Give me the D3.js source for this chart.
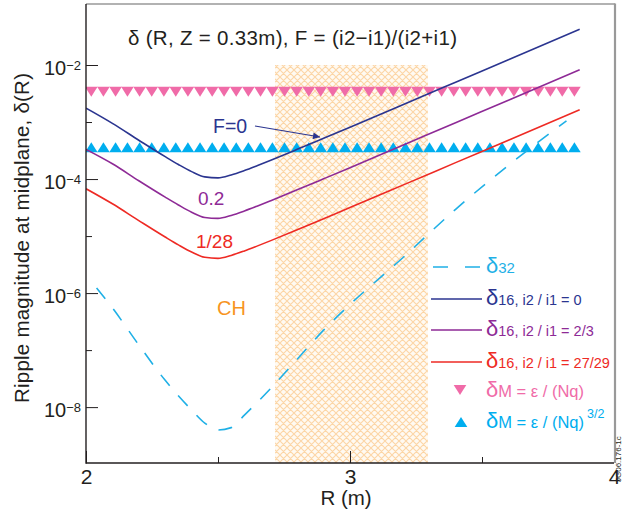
<!DOCTYPE html>
<html><head><meta charset="utf-8">
<script src="https://cdn.jsdelivr.net/npm/d3@7"></script>
<style>
html,body{margin:0;padding:0;background:#fff;}
svg{display:block;font-family:"Liberation Sans",Arial,Helvetica,sans-serif;}
</style></head>
<body><svg id="c" width="623" height="517"></svg>
<script>
// ---- data ----
const xTicks = [2, 3, 4];
const xMinorTicks = [2.5, 3.5];
const yTicks = [1e-2, 1e-4, 1e-6, 1e-8];
const yTickExp = ["\u22122", "\u22124", "\u22126", "\u22128"];
const yMinorTicks = [1e-3, 1e-5, 1e-7];

const R_curve = [2.00, 2.10, 2.20, 2.30, 2.35, 2.40, 2.45, 2.50, 2.55, 2.60, 2.65, 2.70, 2.80, 2.90, 3.00, 3.20, 3.40, 3.60, 3.87];
const delta16_F0 = [1.75e-3, 9.46e-4, 4.80e-4, 2.47e-4, 1.80e-4, 1.35e-4, 1.09e-4, 1.05e-4, 1.18e-4, 1.41e-4, 1.73e-4, 2.14e-4, 3.32e-4, 5.19e-4, 8.13e-4, 2.01e-3, 4.99e-3, 1.24e-2, 4.23e-2];
const delta16_F02 = [3.31e-4, 1.85e-4, 9.35e-5, 4.82e-5, 3.51e-5, 2.62e-5, 2.12e-5, 2.04e-5, 2.30e-5, 2.75e-5, 3.37e-5, 4.17e-5, 6.47e-5, 1.01e-4, 1.58e-4, 3.92e-4, 9.73e-4, 2.41e-3, 8.24e-3];
const delta16_F128 = [6.76e-5, 3.68e-5, 1.87e-5, 9.62e-6, 7.00e-6, 5.24e-6, 4.24e-6, 4.07e-6, 4.58e-6, 5.48e-6, 6.73e-6, 8.32e-6, 1.29e-5, 2.02e-5, 3.16e-5, 7.82e-5, 1.94e-4, 4.81e-4, 1.64e-3];

const R_d32 = [2.04, 2.10, 2.20, 2.30, 2.40, 2.45, 2.50, 2.55, 2.60, 2.70, 2.80, 2.90, 3.00, 3.20, 3.40, 3.60, 3.82];
const delta32 = [1.23e-6, 5.50e-7, 1.23e-7, 2.95e-8, 8.91e-9, 5.25e-9, 3.98e-9, 4.37e-9, 7.24e-9, 2.14e-8, 6.92e-8, 2.24e-7, 6.31e-7, 4.17e-6, 2.95e-5, 1.74e-4, 1.05e-3];

const R_markers = [2.020, 2.066, 2.112, 2.157, 2.203, 2.249, 2.295, 2.340, 2.386, 2.432, 2.478, 2.523, 2.569, 2.615, 2.661, 2.706, 2.752, 2.798, 2.844, 2.889, 2.935, 2.981, 3.027, 3.072, 3.118, 3.164, 3.210, 3.255, 3.301, 3.347, 3.393, 3.438, 3.484, 3.530, 3.576, 3.621, 3.667, 3.713, 3.759, 3.804, 3.850];
const deltaM_Nq = 3.4e-3;
const deltaM_Nq32 = 3.6e-4;

const chRange = [2.716, 3.295];
const chTop = 1e-2;

// ---- setup ----
const svg = d3.select("#c");
const X0 = 86, X1 = 614, Y0 = 463, Y1 = 4;
const x = d3.scaleLinear().domain([2, 4]).range([X0, X1]);
const y = d3.scaleLog().domain([Math.pow(10, -8.98), Math.pow(10, -0.93)]).range([Y0, Y1]);

const C = {navy:"#2b3590", purple:"#8e2a96", red:"#ee2a24", pink:"#f06ba8", cyan:"#00aeef", dash:"#1fb0e6", orange:"#f7941e", hatch:"#fcd6a6", text:"#231f20"};

const defs = svg.append("defs");
const pat = defs.append("pattern").attr("id","hatch").attr("patternUnits","userSpaceOnUse")
  .attr("width",7).attr("height",7);
pat.append("rect").attr("width",7).attr("height",7).attr("fill","#fffaf2");
pat.append("path").attr("d","M0,0L7,7M-1,6L1,8M6,-1L8,1M0,7L7,0M-1,1L1,-1M6,8L8,6")
  .attr("stroke",C.hatch).attr("stroke-width",1.1).attr("fill","none");
defs.append("marker").attr("id","arr").attr("viewBox","0 0 10 10").attr("refX",10).attr("refY",5)
  .attr("markerWidth",9).attr("markerHeight",7).attr("markerUnits","userSpaceOnUse").attr("orient","auto")
  .append("path").attr("d","M0,0L10,5L0,10Z").attr("fill",C.navy);
defs.append("clipPath").attr("id","plot").append("rect").attr("x",X0).attr("y",Y1).attr("width",X1-X0).attr("height",Y0-Y1);

// CH region
svg.append("rect").attr("x",x(chRange[0])).attr("y",y(chTop))
  .attr("width",x(chRange[1])-x(chRange[0])).attr("height",Y0-y(chTop)).attr("fill","url(#hatch)");

const g = svg.append("g").attr("clip-path","url(#plot)");

// markers
const triDown = (cx, cy) => `M${cx-6.3},${cy-5}L${cx+6.3},${cy-5}L${cx},${cy+5}Z`;
const triUp = (cx, cy) => `M${cx-6.3},${cy+5}L${cx+6.3},${cy+5}L${cx},${cy-5}Z`;
g.append("g").selectAll("path").data(R_markers).join("path")
  .attr("d", r => triDown(x(r), y(deltaM_Nq))).attr("fill", C.pink);
g.append("g").selectAll("path").data(R_markers).join("path")
  .attr("d", r => triUp(x(r), y(deltaM_Nq32))).attr("fill", C.cyan);

// curves
const line = d3.line().curve(d3.curveMonotoneX);
function drawCurve(Rs, vals, color, dash){
  const p = g.append("path").attr("d", line(Rs.map((r,i)=>[x(r), y(vals[i])])))
    .attr("fill","none").attr("stroke",color).attr("stroke-width",1.6);
  if (dash) p.attr("stroke-dasharray",dash);
}
drawCurve(R_d32, delta32, C.dash, "14,13");
drawCurve(R_curve, delta16_F128, C.red);
drawCurve(R_curve, delta16_F02, C.purple);
drawCurve(R_curve, delta16_F0, C.navy);

// axes
const yAxis = d3.axisLeft(y).tickValues(yTicks).tickSizeInner(-12).tickSizeOuter(0).tickPadding(5).tickFormat(()=>"");
const ya = svg.append("g").attr("transform",`translate(${X0},0)`).call(yAxis);
ya.select(".domain").remove();
ya.selectAll("line").attr("stroke",C.text).attr("stroke-width",1);
ya.selectAll("text").each(function(d,i){
  const t = d3.select(this).attr("dy",null).attr("y",9).attr("font-size",20).attr("fill",C.text).attr("font-family",null);
  t.text(null);
  t.append("tspan").text("10");
  t.append("tspan").attr("dy",-5).attr("font-size",13).text(yTickExp[i]);
});
const yMin = d3.axisLeft(y).tickValues(yMinorTicks).tickSizeInner(-6).tickSizeOuter(0).tickFormat(()=>"");
const ym = svg.append("g").attr("transform",`translate(${X0},0)`).call(yMin);
ym.select(".domain").remove();
ym.selectAll("line").attr("stroke",C.text);

const xAxis = d3.axisBottom(x).tickValues(xTicks).tickSizeInner(-12).tickSizeOuter(0).tickFormat(d3.format("d"));
const xa = svg.append("g").attr("transform",`translate(0,${Y0})`).call(xAxis);
xa.select(".domain").remove();
xa.selectAll("line").attr("stroke",C.text);
xa.selectAll("text").attr("dy",null).attr("y",21).attr("font-size",21).attr("fill",C.text).attr("font-family",null);
const xMin = d3.axisBottom(x).tickValues(xMinorTicks).tickSizeInner(-6).tickSizeOuter(0).tickFormat(()=>"");
const xm = svg.append("g").attr("transform",`translate(0,${Y0})`).call(xMin);
xm.select(".domain").remove();
xm.selectAll("line").attr("stroke",C.text);

// frame
svg.append("line").attr("x1",X0).attr("x2",X1+1).attr("y1",Y1).attr("y2",Y1).attr("stroke","#666").attr("stroke-width",1.2);
svg.append("line").attr("x1",X1+1).attr("x2",X1+1).attr("y1",Y1-0.6).attr("y2",Y0).attr("stroke","#999").attr("stroke-width",2.2);
svg.append("line").attr("x1",X0).attr("x2",X0).attr("y1",Y1).attr("y2",Y0+0.7).attr("stroke",C.text).attr("stroke-width",1.4);
svg.append("line").attr("x1",X0).attr("x2",X1).attr("y1",Y0).attr("y2",Y0).attr("stroke",C.text).attr("stroke-width",1.4);

// axis titles
svg.append("text").attr("x",346).attr("y",505).attr("text-anchor","middle").attr("font-size",20.5).attr("fill",C.text).text("R (m)");
svg.append("text").attr("transform","translate(29,238) rotate(-90)").attr("text-anchor","middle")
  .attr("font-size",20.5).attr("textLength",330).attr("lengthAdjust","spacing").attr("fill",C.text).text("Ripple magnitude at midplane, \u03b4(R)");

// title
svg.append("text").attr("x",128).attr("y",45).attr("font-size",20.5).attr("textLength",329).attr("lengthAdjust","spacing").attr("fill",C.text)
  .text("\u03b4 (R, Z = 0.33m), F = (i2\u2212i1)/(i2+i1)");

// annotations
svg.append("text").attr("x",213).attr("y",133).attr("font-size",19.5).attr("fill",C.navy).text("F=0");
svg.append("line").attr("x1",255).attr("y1",126).attr("x2",320).attr("y2",137)
  .attr("stroke",C.navy).attr("stroke-width",1.1).attr("marker-end","url(#arr)");
svg.append("text").attr("x",198).attr("y",205).attr("font-size",19).attr("fill",C.purple).text("0.2");
svg.append("text").attr("x",196).attr("y",248).attr("font-size",19).attr("fill",C.red).text("1/28");
svg.append("text").attr("x",217).attr("y",315).attr("font-size",20).attr("fill",C.orange).text("CH");

// legend
const leg = svg.append("g");
function legText(yb, color, sub, subSize, sup){
  const t = leg.append("text").attr("x",486).attr("y",yb).attr("fill",color);
  t.append("tspan").attr("font-size",22).text("\u03b4");
  t.append("tspan").attr("font-size",subSize).text(sub);
  if (sup) t.append("tspan").attr("font-size",12.5).attr("dy",-10).attr("dx",3).text(sup);
}
leg.append("line").attr("x1",433).attr("x2",481).attr("y1",267).attr("y2",267).attr("stroke",C.dash).attr("stroke-width",1.6).attr("stroke-dasharray","15,17");
legText(273, C.dash, "32", 15);
[[299, C.navy, "16, i2 / i1 = 0"],[330, C.purple, "16, i2 / i1 = 2/3"],[362, C.red, "16, i2 / i1 = 27/29"]].forEach(([yy,c,s])=>{
  leg.append("line").attr("x1",431).attr("x2",482).attr("y1",yy).attr("y2",yy).attr("stroke",c).attr("stroke-width",1.6);
  legText(yy+6, c, s, 14.5);
});
leg.append("path").attr("d",triDown(460,390)).attr("fill",C.pink);
legText(397, C.pink, "M = \u03b5 / (Nq)", 16.5);
leg.append("path").attr("d",triUp(461,422)).attr("fill",C.cyan);
legText(428, C.cyan, "M = \u03b5 / (Nq)", 16.5, "3/2");

// figure id
svg.append("text").attr("transform","translate(621,482) rotate(-90)").attr("font-size",8).attr("fill",C.text).text("JG06.176-1c");
</script></body></html>
